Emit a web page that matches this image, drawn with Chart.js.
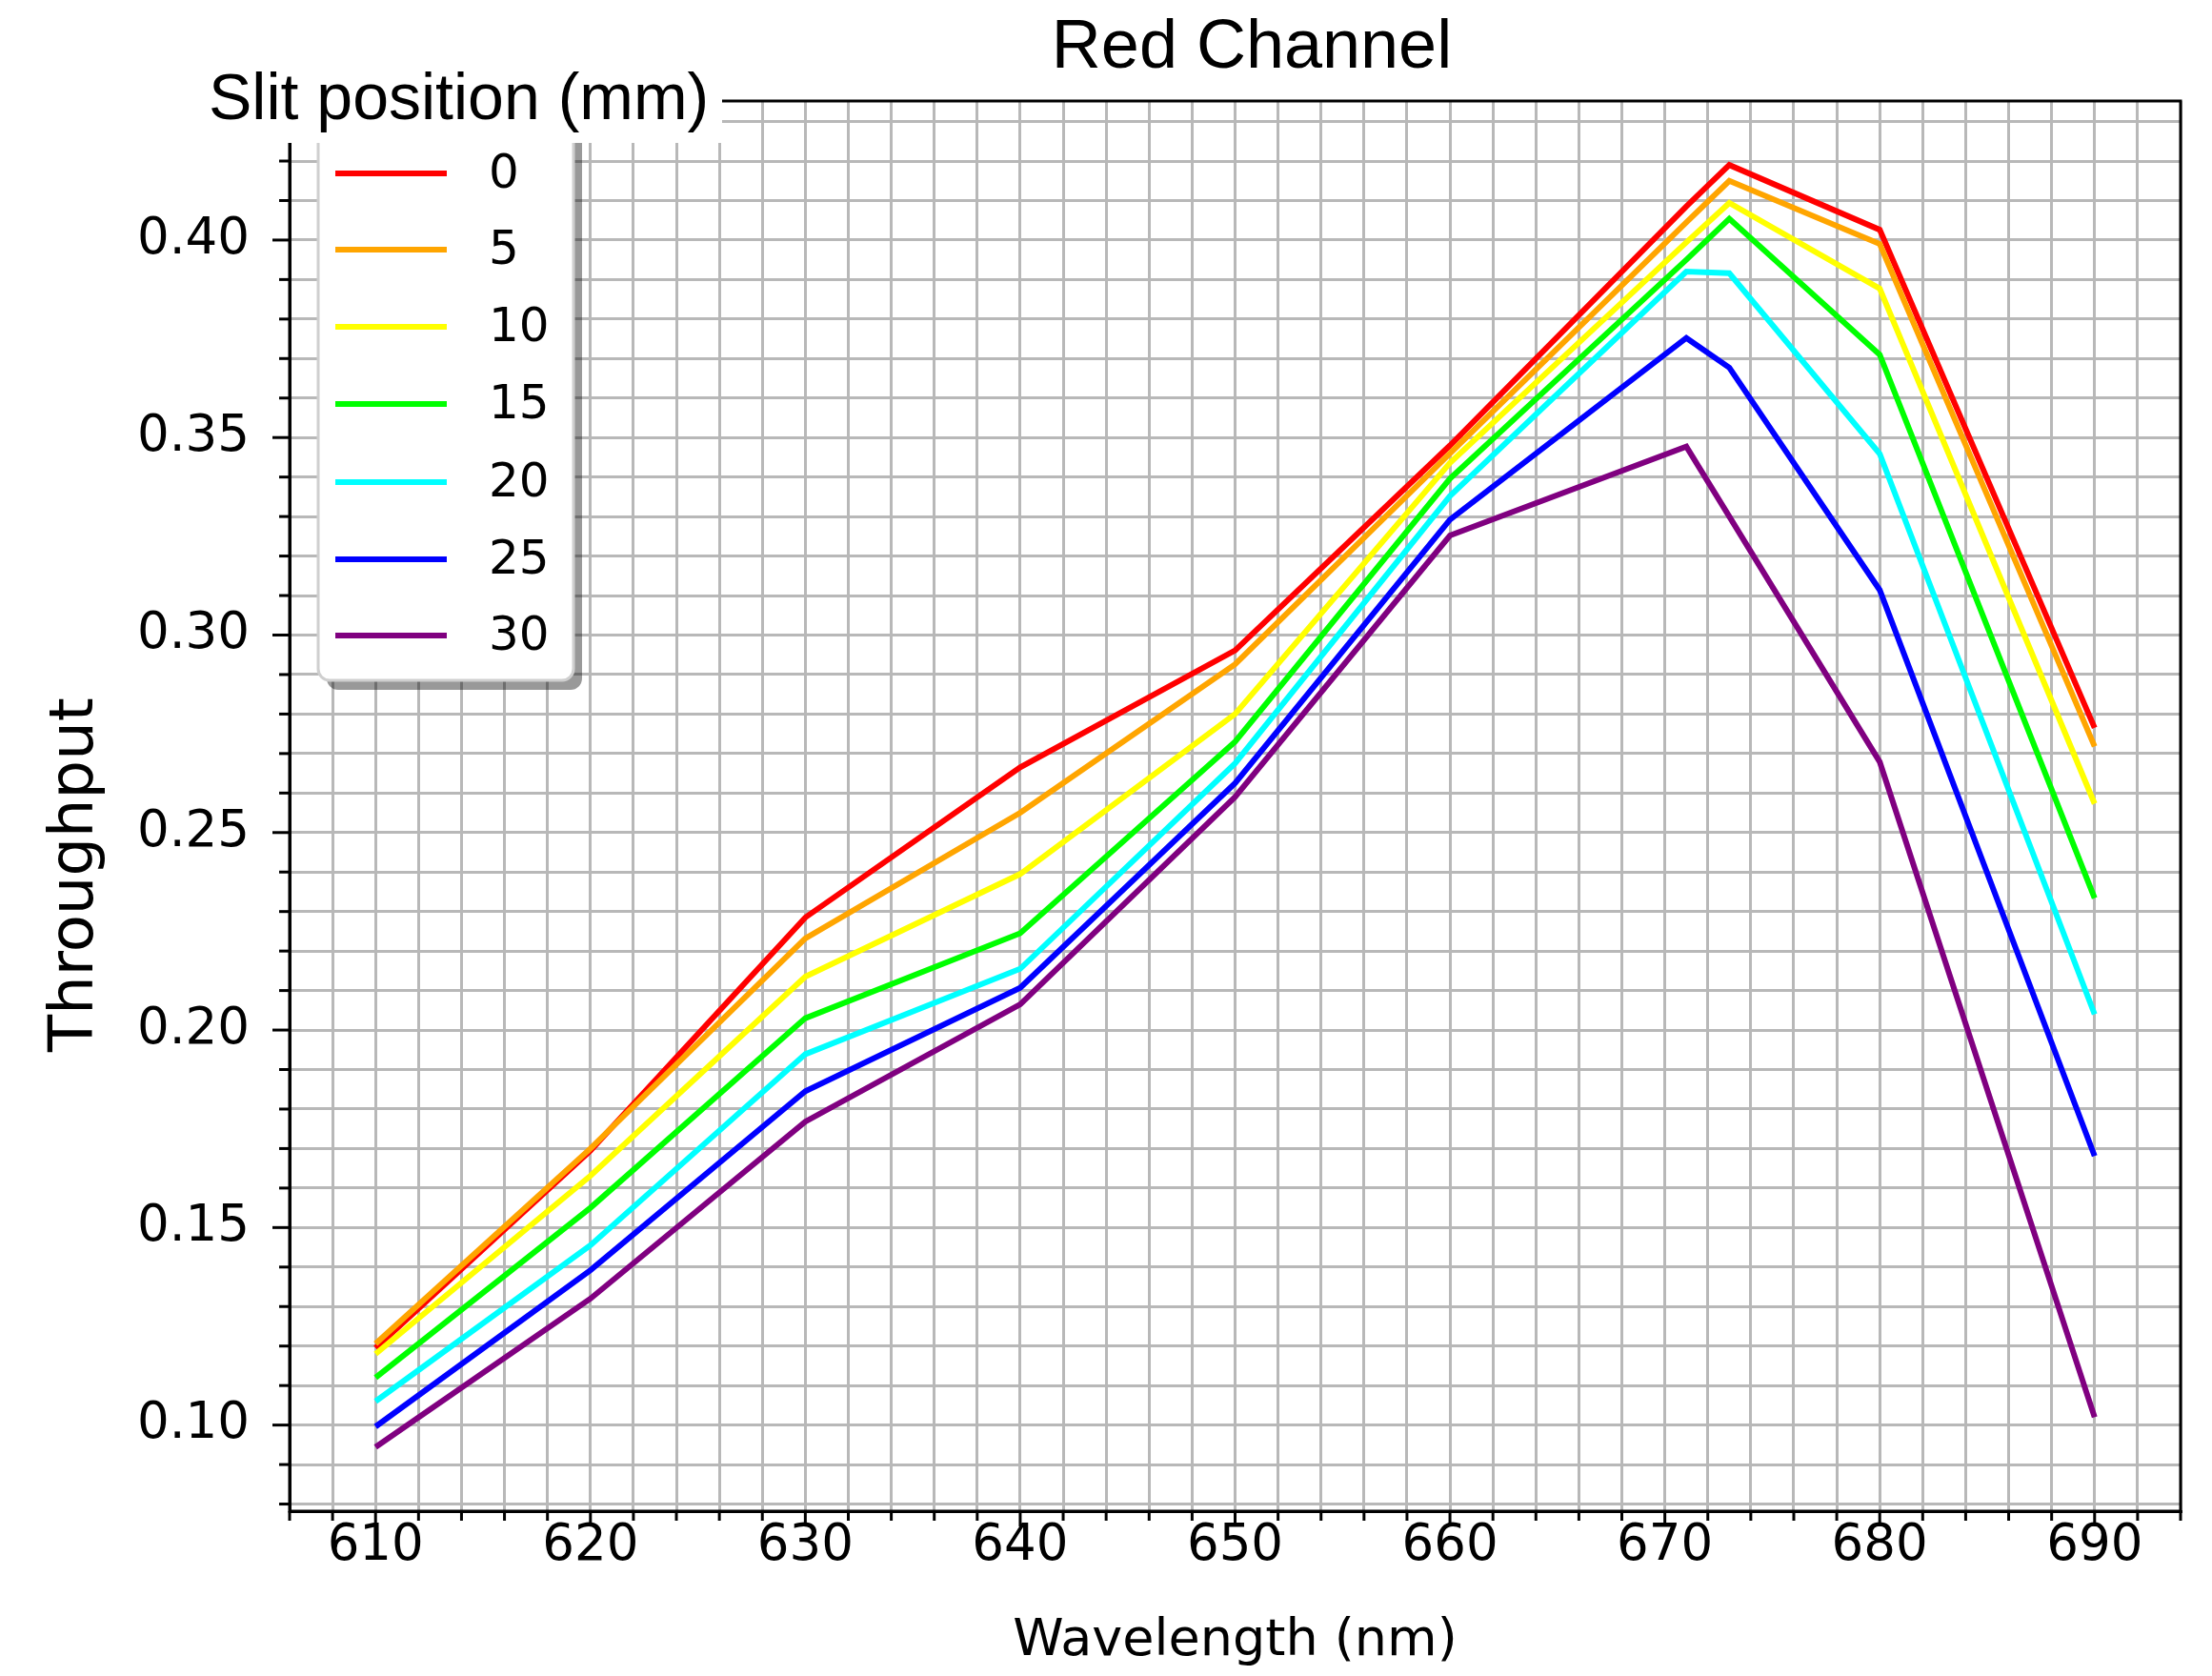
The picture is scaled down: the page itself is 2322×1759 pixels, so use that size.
<!DOCTYPE html>
<html>
<head>
<meta charset="utf-8">
<script src="https://cdn.jsdelivr.net/npm/chart.js@4.4.1/dist/chart.umd.min.js"></script>
<style>
  html, body { margin: 0; padding: 0; background: #fff; }
  #wrap { width: 2322px; height: 1759px; }
</style>
</head>
<body>
<div id="wrap"><canvas id="grafico-red" width="2322" height="1759"></canvas></div>
<script>
// dados
const wavelengths = [610, 620, 630, 640, 650, 660, 671, 673, 680, 690];
const slitPositions = ['0', '5', '10', '15', '20', '25', '30'];
const slit0  = [0.1195, 0.1695, 0.2285, 0.2665, 0.2961, 0.3480, 0.4085, 0.4190, 0.4026, 0.2765];
const slit5  = [0.1206, 0.1700, 0.2232, 0.2550, 0.2926, 0.3460, 0.4045, 0.4150, 0.3990, 0.2718];
const slit10 = [0.1180, 0.1631, 0.2135, 0.2395, 0.2800, 0.3436, 0.3994, 0.4094, 0.3877, 0.2573];
const slit15 = [0.1120, 0.1550, 0.2030, 0.2245, 0.2730, 0.3396, 0.3950, 0.4054, 0.3710, 0.2334];
const slit20 = [0.1060, 0.1455, 0.1939, 0.2155, 0.2675, 0.3352, 0.3920, 0.3916, 0.3459, 0.2040];
const slit25 = [0.0996, 0.1392, 0.1845, 0.2107, 0.2625, 0.3292, 0.3752, 0.3677, 0.3114, 0.1681];
const slit30 = [0.0944, 0.1320, 0.1768, 0.2065, 0.2590, 0.3252, 0.3477, 0.3300, 0.2679, 0.1020];
const lineColors = ['#ff0000', '#ffa500', '#ffff00', '#00ff00', '#00ffff', '#0000ff', '#800080'];
const xTickLabels = [610, 620, 630, 640, 650, 660, 670, 680, 690];
const yTickLabels = [0.10, 0.15, 0.20, 0.25, 0.30, 0.35, 0.40];

const series = [slit0, slit5, slit10, slit15, slit20, slit25, slit30];

const ctx = document.getElementById('grafico-red').getContext('2d');

const datasets = series.map((vals, i) => ({
    label: slitPositions[i],
    data: wavelengths.map((w, j) => ({ x: w, y: vals[j] })),
    borderColor: lineColors[i],
    backgroundColor: lineColors[i],
    borderWidth: 6,
    pointRadius: 0,
    tension: 0,
    fill: false,
    order: series.length - 1 - i   // ultimo por cima, como no matplotlib
}));

function xLabel(v) {
    const t = xTickLabels.find(t => Math.abs(t - v) < 1e-6);
    return t === undefined ? '' : String(t);
}
function yLabel(v) {
    const t = yTickLabels.find(t => Math.abs(t - v) < 1e-6);
    return t === undefined ? '' : t.toFixed(2);
}

// moldura, ticks menores, legenda e textos
const extras = {
    id: 'extras',
    afterDraw(chart) {
        const c = chart.ctx;
        const a = chart.chartArea;
        const sx = chart.scales.x, sy = chart.scales.y;
        c.save();

        // tick marks (maiores e menores)
        c.strokeStyle = '#000';
        c.lineWidth = 3;
        sx.ticks.forEach(t => {
            const px = sx.getPixelForValue(t.value);
            const len = xLabel(t.value) ? 16 : 10;
            c.beginPath(); c.moveTo(px, a.bottom); c.lineTo(px, a.bottom + len); c.stroke();
        });
        sy.ticks.forEach(t => {
            const py = sy.getPixelForValue(t.value);
            const len = yLabel(t.value) ? 18 : 11;
            c.beginPath(); c.moveTo(a.left, py); c.lineTo(a.left - len, py); c.stroke();
        });
        c.strokeRect(a.left, a.top, a.right - a.left, a.bottom - a.top);

        // legenda
        const bx = 334, by = 120, bw = 268, bh = 594;
        c.fillStyle = 'rgba(0,0,0,0.4)';
        c.beginPath(); c.roundRect(bx + 9, by + 10, bw, bh, 12); c.fill();
        c.fillStyle = '#fff';
        c.strokeStyle = '#cfcfcf';
        c.lineWidth = 3;
        c.beginPath(); c.roundRect(bx, by, bw, bh, 12); c.fill(); c.stroke();
        const rows = [182, 262, 343, 424, 506, 587, 667];
        chart.data.datasets.forEach((ds, i) => {
            c.strokeStyle = ds.borderColor;
            c.lineWidth = 6;
            c.beginPath(); c.moveTo(352, rows[i]); c.lineTo(469, rows[i]); c.stroke();
            c.fillStyle = '#000';
            c.font = '50px "DejaVu Sans"';
            c.textAlign = 'left';
            c.textBaseline = 'middle';
            c.fillText(ds.label, 513, rows[i] + 2);
        });

        // titulo da legenda com fundo branco
        c.fillStyle = '#fff';
        c.fillRect(207, 0, 551, 150);
        c.fillStyle = '#000';
        c.font = '68px "Liberation Sans"';
        c.textAlign = 'left';
        c.textBaseline = 'alphabetic';
        c.fillText('Slit position (mm)', 219, 125);

        // titulo
        c.font = '72px "Liberation Sans"';
        c.textAlign = 'center';
        c.fillText('Red Channel', 1314, 71);

        // eixos
        c.font = '54px "DejaVu Sans"';
        c.fillText('Wavelength (nm)', (a.left + a.right) / 2, 1737);
        c.save();
        c.translate(97, 918);
        c.rotate(-Math.PI / 2);
        c.font = '64px "DejaVu Sans"';
        c.fillText('Throughput', 0, 0);
        c.restore();

        c.restore();
    }
};

const gridOpts = {
    color: '#b8b8b8',
    lineWidth: 3,
    tickLength: 0,
    tickColor: 'rgba(0,0,0,0)'
};

new Chart(ctx, {
    type: 'line',
    data: { datasets: datasets },
    options: {
        responsive: false,
        animation: false,
        layout: { padding: { left: 0, right: 33, top: 106, bottom: 23 } },
        plugins: {
            legend: { display: false },
            title: { display: false },
            tooltip: { enabled: false }
        },
        scales: {
            x: {
                type: 'linear',
                min: 606,
                max: 694,
                afterFit: s => { s.height = 150; },
                ticks: {
                    stepSize: 2,
                    autoSkip: false,
                    maxRotation: 0,
                    includeBounds: false,
                    padding: 5,
                    color: '#000',
                    font: { family: 'DejaVu Sans', size: 53 },
                    callback: v => xLabel(v)
                },
                grid: gridOpts,
                border: { display: true, color: '#000', width: 3 }
            },
            y: {
                type: 'linear',
                min: 0.0782,
                max: 0.4352,
                afterFit: s => { s.width = 304; },
                ticks: {
                    stepSize: 0.01,
                    autoSkip: false,
                    includeBounds: false,
                    padding: 42,
                    color: '#000',
                    font: { family: 'DejaVu Sans', size: 53 },
                    callback: v => yLabel(v)
                },
                grid: gridOpts,
                border: { display: true, color: '#000', width: 3 }
            }
        }
    },
    plugins: [extras]
});
</script>
</body>
</html>
